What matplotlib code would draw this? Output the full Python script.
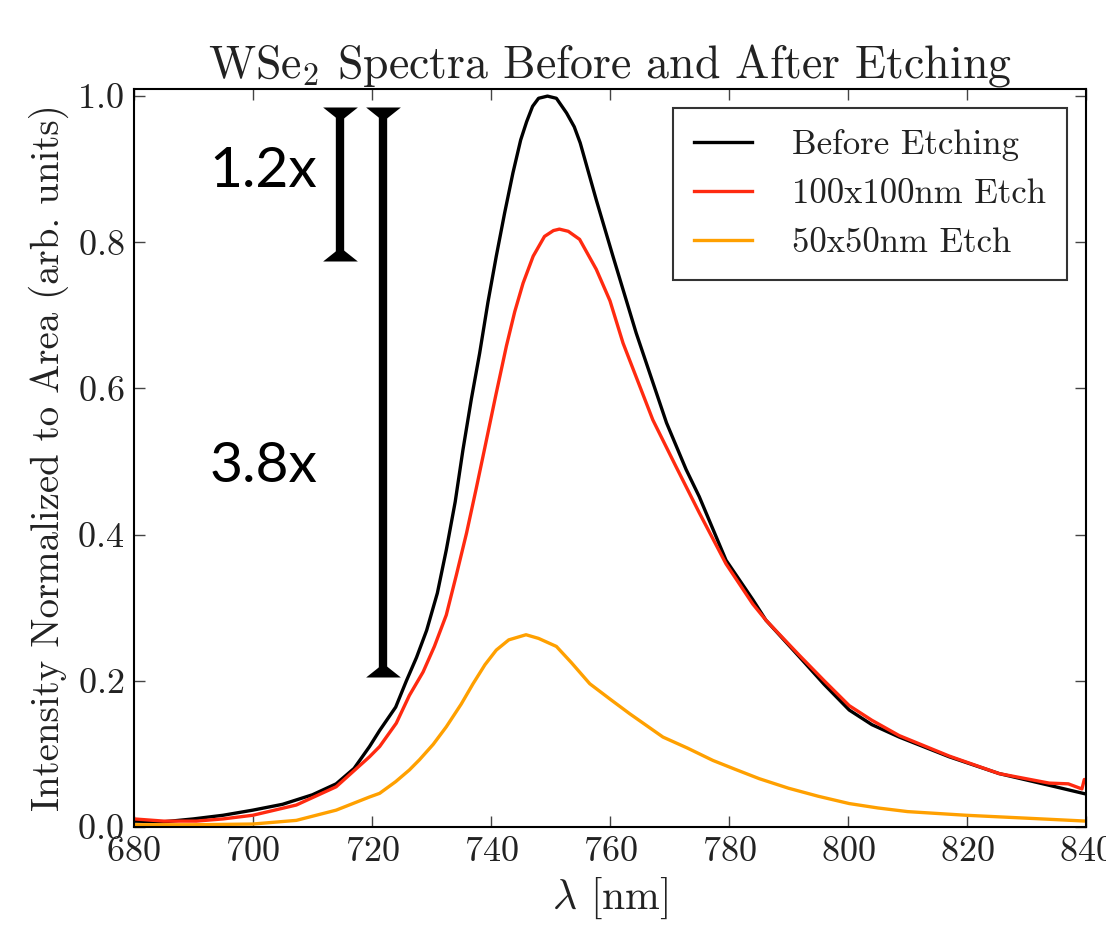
import numpy as np
import matplotlib.pyplot as plt
from matplotlib.ticker import MultipleLocator

plt.rcParams['font.family'] = 'cmr10'
plt.rcParams['mathtext.fontset'] = 'cm'
plt.rcParams['axes.formatter.use_mathtext'] = True

# Spectra (wavelength in nm, normalized intensity)
wl_before = [680, 685, 690, 695, 700, 705, 710, 714, 717, 719.6, 721.3, 724, 725.8,
             727.5, 729.2, 731, 732.5, 734, 735.3, 736.7, 738.1, 739.5, 740.9, 742.3,
             743.7, 745, 746, 747, 748, 749.5, 751, 752.7, 754, 755, 757.7, 760.5, 764.4,
             769.5, 772.8, 775, 779.5, 784, 786.2, 791.8, 796, 800.2, 804, 808.6, 817,
             825.4, 833.8, 840]
int_before = [0.008, 0.007, 0.011, 0.016, 0.023, 0.031, 0.044, 0.059, 0.080, 0.110, 0.132,
              0.164, 0.200, 0.232, 0.269, 0.320, 0.379, 0.445, 0.516, 0.585, 0.648, 0.718,
              0.781, 0.840, 0.895, 0.940, 0.965, 0.986, 0.997, 1.000, 0.997, 0.977, 0.958,
              0.936, 0.858, 0.781, 0.676, 0.553, 0.489, 0.452, 0.365, 0.311, 0.283, 0.233,
              0.195, 0.160, 0.140, 0.123, 0.096, 0.073, 0.057, 0.045]

wl_100 = [680, 685, 690.5, 695, 700, 707.3, 714, 719.6, 721.3, 724.1, 726.3, 728.6, 730.5,
          732.5, 734.2, 735.9, 737.5, 738.9, 740.8, 742.6, 744, 745.4, 747.1, 749, 750.5,
          751.5, 753, 754.9, 757.7, 760, 762.2, 767.2, 771.1, 775, 779.5, 784, 786.2,
          791.8, 796, 800.2, 804, 808.6, 817, 825.4, 833.8, 837, 839.3, 839.7, 840]
int_100 = [0.011, 0.008, 0.008, 0.011, 0.016, 0.030, 0.055, 0.096, 0.110, 0.142, 0.180,
           0.212, 0.247, 0.290, 0.345, 0.402, 0.462, 0.516, 0.590, 0.658, 0.705, 0.744,
           0.781, 0.808, 0.816, 0.818, 0.815, 0.804, 0.763, 0.720, 0.662, 0.557, 0.493,
           0.430, 0.360, 0.305, 0.283, 0.235, 0.200, 0.166, 0.146, 0.125, 0.097, 0.073,
           0.060, 0.059, 0.052, 0.065, 0.062]

wl_50 = [680, 690, 700, 707.3, 714, 719.6, 721.3, 724, 726.3, 728, 730.3, 732.5, 735,
         737, 739, 740.9, 743, 745.9, 748, 751, 753.5, 756.6, 760, 763.3, 768.9, 773,
         777.3, 781, 785.1, 790, 795, 800.2, 805, 810, 819.8, 830, 840]
int_50 = [0.003, 0.003, 0.004, 0.009, 0.023, 0.041, 0.046, 0.062, 0.078, 0.092, 0.113,
          0.137, 0.168, 0.196, 0.222, 0.242, 0.256, 0.263, 0.258, 0.247, 0.225, 0.196,
          0.175, 0.155, 0.123, 0.108, 0.091, 0.079, 0.066, 0.053, 0.042, 0.032, 0.026,
          0.021, 0.016, 0.012, 0.008]

labels = ['Before Etching', '100x100nm Etch', '50x50nm Etch']
colors = ['black', '#ff2a10', '#ffa000']

# Ratio markers drawn on top of the plot
bar_x = [714.6, 721.8]
bar_top = [0.985, 0.985]
bar_bottom = [0.775, 0.205]
ratio_text = ['1.2x', '3.8x']
ratio_y = [0.897, 0.493]

fig = plt.figure(figsize=(11.06, 9.25), dpi=100)
ax = fig.add_axes([0.121, 0.106, 0.861, 0.798])

ax.plot(wl_before, int_before, color=colors[0], lw=2.4, label=labels[0])
ax.plot(wl_100, int_100, color=colors[1], lw=2.4, label=labels[1])
ax.plot(wl_50, int_50, color=colors[2], lw=2.4, label=labels[2])

cap_down = [(-1, 0), (1, 0), (0.12, -0.7), (-0.12, -0.7)]
cap_up = [(-1, 0), (1, 0), (0.12, 0.7), (-0.12, 0.7)]
for x, y0, y1 in zip(bar_x, bar_bottom, bar_top):
    ax.plot([x, x], [y0 + 0.01, y1 - 0.01], color='black', lw=6, solid_capstyle='butt')
    ax.plot([x], [y1], marker=cap_down, ms=25, color='black', mew=0)
    ax.plot([x], [y0], marker=cap_up, ms=25, color='black', mew=0)
for t, y in zip(ratio_text, ratio_y):
    ax.text(701.8, y, t, fontsize=41, family='Lato', ha='center', va='center')

ax.set_xlim(680, 840)
ax.set_ylim(0, 1.01)
ax.xaxis.set_major_locator(MultipleLocator(20))
ax.yaxis.set_major_locator(MultipleLocator(0.2))
ax.tick_params(direction='in', length=8, width=1, color='#444444', labelsize=26,
               top=True, right=True, pad=7, labelcolor='#222222')
for s in ax.spines.values():
    s.set_linewidth(1.5)

ax.set_title('WSe$_2$ Spectra Before and After Etching', fontsize=33, pad=8,
             color='#222222')
ax.set_xlabel(r'$\lambda$ [nm]', fontsize=30, labelpad=5, color='#222222')
ax.set_ylabel('Intensity Normalized to Area (arb. units)', fontsize=28, labelpad=6,
              color='#222222')

leg = ax.legend(loc='upper right', fontsize=25, frameon=True, fancybox=False,
                edgecolor='black', handlelength=1.67, handletextpad=1.15,
                labelspacing=0.5, borderpad=0.6, borderaxespad=0.55)
leg.get_frame().set_linewidth(1.5)
for t in leg.get_texts():
    t.set_color('#222222')

plt.savefig('out.png', dpi=100)
